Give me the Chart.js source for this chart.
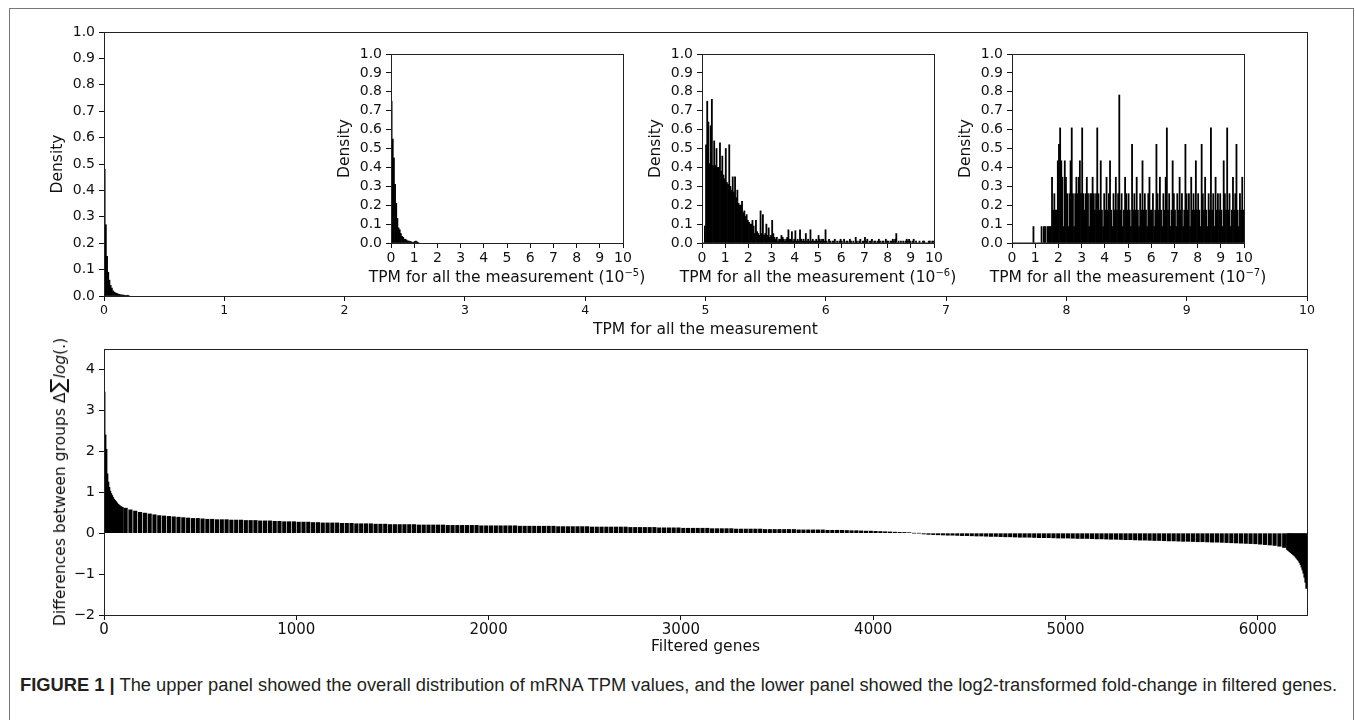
<!DOCTYPE html>
<html><head><meta charset="utf-8">
<script src="https://cdn.jsdelivr.net/npm/chart.js"></script>
<style>
html,body{margin:0;padding:0;background:#fff;width:1355px;height:720px;overflow:hidden;}
body{position:relative;font-family:"DejaVu Sans",sans-serif;color:#111;}
canvas{position:absolute;}
#frame{position:absolute;left:9px;top:8px;width:1345px;height:730px;border:1px solid #777;box-sizing:border-box;}
.ititle{position:absolute;top:277px;transform:translate(-50%,-50%);white-space:nowrap;font-size:15.5px;color:#111;}
.ititle sup{font-size:10px;vertical-align:6px;line-height:0;}
#ytitle{position:absolute;left:58px;top:482px;transform:translate(-50%,-50%) rotate(-90deg);white-space:nowrap;font-size:15.5px;color:#111;}
#ytitle .sum{font-size:21px;}
#caption{position:absolute;left:20px;top:675px;white-space:nowrap;font-family:"Liberation Sans",Arial,sans-serif;font-size:18px;color:#231f20;transform-origin:0 0;}
</style></head>
<body>
<div id="frame"></div>
<canvas id="cMain" width="1355" height="345" style="left:0;top:0"></canvas>
<canvas id="cIn1" width="310" height="250" style="left:329px;top:40px"></canvas>
<canvas id="cIn2" width="310" height="250" style="left:640px;top:40px"></canvas>
<canvas id="cIn3" width="310" height="250" style="left:950px;top:40px"></canvas>
<canvas id="cBot" width="1355" height="325" style="left:0;top:335px"></canvas>
<div class="ititle" style="left:507px">TPM for all the measurement (10<sup>−5</sup>)</div>
<div class="ititle" style="left:818px">TPM for all the measurement (10<sup>−6</sup>)</div>
<div class="ititle" style="left:1128px">TPM for all the measurement (10<sup>−7</sup>)</div>
<div id="ytitle">Differences between groups Δ<span class="sum">∑</span><i>log</i>(.)</div>
<div id="caption"><b>FIGURE 1 |</b> The upper panel showed the overall distribution of mRNA TPM values, and the lower panel showed the log2-transformed fold-change in filtered genes.</div>
<script>
// ---------------- DATA ----------------
// Upper main panel: histogram of TPM (bin width 0.01)
const mainBinWidth = 0.01;
const mainDensity = [0.48, 0.27, 0.15, 0.09, 0.06, 0.04, 0.03, 0.02, 0.015, 0.012, 0.01, 0.008, 0.006, 0.005, 0.004, 0.004, 0.003, 0.003, 0.002, 0.003, 0.002];
const mainXTicks = [0, 1, 2, 3, 4, 5, 6, 7, 8, 9, 10];
const densityTicks = [0, 0.1, 0.2, 0.3, 0.4, 0.5, 0.6, 0.7, 0.8, 0.9, 1.0];
const insetXTicks = [0, 1, 2, 3, 4, 5, 6, 7, 8, 9, 10];

// Inset 1 (x 1e-5), bin width 0.05
const inset1BinWidth = 0.05;
const inset1Density = [0.75, 0.55, 0.45, 0.31, 0.21, 0.13, 0.08, 0.07, 0.05, 0.035, 0.03, 0.02, 0.02, 0.015, 0.01, 0.01, 0.008, 0.006, 0.004, 0.004, 0.008, 0.01, 0.006, 0.003];

// Inset 2 (x 1e-6), bin width 0.05
const inset2BinWidth = 0.05;
const inset2Density = [
  0, 0, 0.09, 0.52, 0.75, 0.64, 0.42, 0.62, 0.76, 0.41, 0.54, 0.41, 0.5, 0.4, 0.4, 0.53, 0.38, 0.46, 0.36, 0.34,
  0.5, 0.32, 0.31, 0.52, 0.3, 0.28, 0.35, 0.27, 0.35, 0.24, 0.28, 0.21, 0.2, 0.2, 0.22, 0.16, 0.17, 0.14, 0.15, 0.12,
  0.11, 0.1, 0.1, 0.12, 0.09, 0.05, 0.12, 0.06, 0.05, 0.04, 0.17, 0.05, 0.15, 0.04, 0.05, 0.1, 0.04, 0.08, 0.03, 0.04,
  0.12, 0.05, 0.03, 0.02, 0.03, 0.01, 0.02, 0.02, 0.04, 0.03, 0.02, 0.01, 0.02, 0.03, 0.07, 0.02, 0.02, 0.06, 0.01, 0.02,
  0.065, 0.01, 0.02, 0.01, 0.07, 0.02, 0.01, 0.02, 0.01, 0.05, 0.01, 0.02, 0.01, 0.07, 0.01, 0.02, 0.01, 0.01, 0.02, 0.01,
  0.04, 0.02, 0.01, 0.02, 0.02, 0.01, 0.07, 0.01, 0, 0.02, 0.01, 0, 0.01, 0.01, 0.02, 0, 0.01, 0, 0.01, 0.02,
  0.01, 0, 0.02, 0, 0.01, 0.01, 0, 0.02, 0.01, 0, 0.01, 0, 0.03, 0.01, 0, 0.01, 0.02, 0, 0.01, 0.01,
  0.03, 0.01, 0.02, 0, 0.01, 0.01, 0.02, 0, 0.01, 0.01, 0, 0.01, 0.02, 0.01, 0, 0.01, 0.01, 0, 0.02, 0.01,
  0.01, 0, 0.01, 0.01, 0.02, 0.01, 0.02, 0.05, 0, 0.01, 0, 0.01, 0, 0.01, 0, 0.01, 0.02, 0.01, 0.02, 0.01,
  0, 0.01, 0.02, 0, 0.01, 0, 0, 0.01, 0, 0, 0.01, 0.01, 0, 0, 0, 0.01, 0.01, 0, 0.01, 0.01
];

// Inset 3 (x 1e-7), bin width 0.05
const inset3BinWidth = 0.05;
const inset3Density = [
  0, 0, 0, 0, 0, 0, 0, 0, 0, 0, 0, 0, 0, 0, 0, 0, 0, 0, 0.087, 0,
  0, 0, 0, 0, 0, 0.087, 0, 0.087, 0.087, 0, 0.087, 0.087, 0.087, 0.087, 0.348, 0.174, 0.261, 0.174, 0.174, 0.435,
  0.522, 0.609, 0.435, 0.348, 0.087, 0.435, 0.348, 0.261, 0.087, 0.261, 0.435, 0.609, 0.261, 0.087, 0.261, 0.348, 0.261, 0.348, 0.435, 0.261,
  0.609, 0.261, 0.174, 0.261, 0.348, 0.261, 0.087, 0.261, 0.261, 0.348, 0.261, 0.174, 0.261, 0.609, 0.261, 0.174, 0.435, 0.174, 0.087, 0.261,
  0.174, 0.348, 0.174, 0.261, 0.435, 0.174, 0.087, 0.261, 0.174, 0.348, 0.174, 0.261, 0.783, 0.174, 0.261, 0.087, 0.174, 0.348, 0.261, 0.174,
  0.261, 0.174, 0.087, 0.522, 0.174, 0.261, 0.174, 0.348, 0.174, 0.087, 0.261, 0.174, 0.435, 0.174, 0.261, 0.174, 0.087, 0.261, 0.348, 0.174,
  0.174, 0.261, 0.087, 0.174, 0.522, 0.261, 0.174, 0.348, 0.174, 0.087, 0.261, 0.174, 0.348, 0.609, 0.174, 0.261, 0.087, 0.174, 0.435, 0.261,
  0.174, 0.087, 0.261, 0.174, 0.348, 0.174, 0.261, 0.087, 0.174, 0.522, 0.261, 0.174, 0.261, 0.087, 0.348, 0.174, 0.261, 0.174, 0.435, 0.174,
  0.261, 0.174, 0.087, 0.522, 0.261, 0.174, 0.348, 0.174, 0.087, 0.261, 0.174, 0.609, 0.174, 0.261, 0.087, 0.348, 0.174, 0.261, 0.174, 0.261,
  0.174, 0.087, 0.435, 0.261, 0.174, 0.609, 0.174, 0.261, 0.087, 0.174, 0.348, 0.174, 0.261, 0.522, 0.174, 0.087, 0.261, 0.174, 0.348, 0.174
];

// Lower panel: sorted differences per filtered gene (binned)
const geneTotal = 6256;
const geneHeadStart = 0, geneHeadBin = 5;
const geneHeadDiff = [3.45, 2.4, 2.05, 1.45, 1.25, 1.12, 1.03, 0.97, 0.92, 0.87, 0.83, 0.8, 0.77, 0.74, 0.71, 0.69, 0.67, 0.65, 0.64, 0.63];
const geneMidStart = 100, geneMidBin = 25;
const geneMidDiff = [
  0.61, 0.57, 0.54, 0.51, 0.49, 0.47, 0.45, 0.43, 0.42, 0.41,
  0.40, 0.39, 0.38, 0.37, 0.36, 0.36, 0.35, 0.34, 0.34, 0.33,
  0.33, 0.33, 0.32, 0.32, 0.32, 0.31, 0.31, 0.31, 0.30, 0.30,
  0.30, 0.29, 0.29, 0.28, 0.28, 0.28, 0.27, 0.27, 0.27, 0.26,
  0.26, 0.25, 0.25, 0.25, 0.25, 0.24, 0.24, 0.24, 0.23, 0.23,
  0.23, 0.23, 0.22, 0.22, 0.22, 0.21, 0.21, 0.21, 0.21, 0.21,
  0.21, 0.20, 0.20, 0.20, 0.20, 0.20, 0.20, 0.19, 0.19, 0.19,
  0.19, 0.19, 0.19, 0.19, 0.18, 0.18, 0.18, 0.18, 0.18, 0.18,
  0.18, 0.18, 0.17, 0.17, 0.17, 0.17, 0.17, 0.17, 0.17, 0.17,
  0.16, 0.16, 0.16, 0.16, 0.16, 0.16, 0.16, 0.15, 0.15, 0.15,
  0.15, 0.15, 0.15, 0.15, 0.15, 0.14, 0.14, 0.14, 0.14, 0.14,
  0.14, 0.13, 0.13, 0.13, 0.13, 0.13, 0.12, 0.12, 0.12, 0.12,
  0.12, 0.12, 0.11, 0.11, 0.11, 0.11, 0.11, 0.10, 0.10, 0.10,
  0.10, 0.10, 0.10, 0.09, 0.09, 0.09, 0.09, 0.09, 0.09, 0.09,
  0.08, 0.08, 0.08, 0.08, 0.08, 0.08, 0.07, 0.07, 0.07, 0.07,
  0.065, 0.06, 0.06, 0.055, 0.05, 0.05, 0.045, 0.04, 0.035, 0.03,
  0.025, 0.02, 0.018, 0.012, 0, 0, -0.02, -0.03, -0.035, -0.04,
  -0.045, -0.05, -0.05, -0.055, -0.06, -0.06, -0.065, -0.07, -0.07, -0.075,
  -0.08, -0.08, -0.085, -0.09, -0.09, -0.095, -0.1, -0.1, -0.1, -0.105,
  -0.11, -0.11, -0.11, -0.115, -0.12, -0.12, -0.12, -0.125, -0.13, -0.13,
  -0.13, -0.135, -0.14, -0.14, -0.145, -0.15, -0.15, -0.155, -0.16, -0.16,
  -0.165, -0.17, -0.17, -0.175, -0.18, -0.18, -0.185, -0.19, -0.19, -0.195,
  -0.2, -0.2, -0.205, -0.21, -0.21, -0.215, -0.22, -0.22, -0.225, -0.23,
  -0.235, -0.24, -0.245, -0.25, -0.255, -0.26, -0.27, -0.28, -0.29, -0.3,
  -0.32, -0.35
];
const geneTailStart = 6150, geneTailBin = 5;
const geneTailDiff = [-0.4, -0.42, -0.44, -0.46, -0.48, -0.5, -0.52, -0.54, -0.56, -0.59, -0.62, -0.65, -0.68, -0.72, -0.77, -0.83, -0.9, -0.98, -1.08, -1.2, -1.35];
const geneTicks = [0, 1000, 2000, 3000, 4000, 5000, 6000];
const diffTicks = [-2, -1, 0, 1, 2, 3, 4];

// ---------------- HELPERS ----------------
const toPoints = (arr, w, start = 0) => arr.map((y, i) => ({ x: start + (i + 0.5) * w, y }));
const setTicks = arr => s => { s.ticks = arr.map(v => ({ value: v })); };
const fixW = w => s => { s.width = w; };
const fixH = h => s => { s.height = h; };
const INK = '#111';
Chart.defaults.font.family = "'DejaVu Sans', sans-serif";
Chart.defaults.color = INK;

const boxPlugin = {
  id: 'box',
  afterDraw(chart) {
    const a = chart.chartArea, c = chart.ctx;
    c.save();
    c.strokeStyle = '#222'; c.lineWidth = 1;
    c.strokeRect(Math.round(a.left) + 0.5, Math.round(a.top) + 0.5, Math.round(a.right - a.left), Math.round(a.bottom - a.top));
    c.restore();
  }
};

function gridOpts() {
  return { display: true, drawOnChartArea: false, drawTicks: true, tickLength: 5, color: INK, offset: false };
}
function borderOpts() { return { display: true, color: '#222', width: 1 }; }

function histChart(id, datasets, o) {
  return new Chart(document.getElementById(id), {
    type: 'bar',
    data: { datasets },
    options: {
      responsive: false, animation: false, events: [],
      layout: { padding: o.padding },
      plugins: { legend: { display: false }, tooltip: { enabled: false }, title: { display: false } },
      scales: {
        x: {
          type: 'linear', min: o.xmin, max: o.xmax, offset: false,
          afterBuildTicks: setTicks(o.xticks), afterFit: fixH(o.xh),
          grid: gridOpts(), border: borderOpts(),
          ticks: { font: { size: o.xfont }, padding: o.xpad, maxRotation: 0, autoSkip: false, color: INK, callback: o.xfmt },
          title: o.xtitle ? { display: true, text: o.xtitle, font: { size: 15.5 }, color: INK, padding: { top: 0, bottom: o.xtitlePad } } : { display: false }
        },
        y: {
          type: 'linear', min: o.ymin, max: o.ymax,
          afterBuildTicks: setTicks(o.yticks), afterFit: fixW(o.yw),
          grid: gridOpts(), border: borderOpts(),
          ticks: { font: { size: o.yfont }, padding: 4, autoSkip: false, color: INK, callback: o.yfmt },
          title: o.ytitle ? { display: true, text: o.ytitle, font: { size: 15.5 }, color: INK, padding: { top: o.ytitlePad, bottom: 0 } } : { display: false }
        }
      }
    },
    plugins: [boxPlugin]
  });
}

const histSet = (vals, w) => ({ data: toPoints(vals, w), backgroundColor: '#000', borderWidth: 0, barPercentage: 1, categoryPercentage: 1 });
const fmt1 = v => Number(v).toFixed(1);
const fmtInt = v => String(v);
const fmtMinus = v => (v < 0 ? '\u2212' + Math.abs(v) : String(v));

// Upper main panel
histChart('cMain', [histSet(mainDensity, mainBinWidth)], {
  padding: { left: 0, right: 48, top: 32, bottom: 0 },
  xmin: 0, xmax: 10, xticks: mainXTicks, xh: 49, xfont: 12.5, xpad: 2, xfmt: fmtInt,
  xtitle: 'TPM for all the measurement', xtitlePad: 6,
  ymin: 0, ymax: 1, yticks: densityTicks, yw: 104, yfont: 14, yfmt: fmt1,
  ytitle: 'Density', ytitlePad: 49
});

// Insets
const insetOpts = {
  padding: { left: 0, right: 16, top: 14, bottom: 0 },
  xmin: 0, xmax: 10, xticks: insetXTicks, xh: 47, xfont: 14, xpad: 1.5, xfmt: fmtInt,
  ymin: 0, ymax: 1, yticks: densityTicks, yw: 62, yfont: 14, yfmt: fmt1,
  ytitle: 'Density', ytitlePad: 7
};
histChart('cIn1', [histSet(inset1Density, inset1BinWidth)], insetOpts);
histChart('cIn2', [histSet(inset2Density, inset2BinWidth)], insetOpts);
histChart('cIn3', [histSet(inset3Density, inset3BinWidth)], insetOpts);

// Lower panel
const geneSet = (vals, start, w, thick) => ({
  data: toPoints(vals, w, start), backgroundColor: '#000', borderWidth: 0, grouped: false, barThickness: thick
});
histChart('cBot', [
  geneSet(geneHeadDiff, geneHeadStart, geneHeadBin, 1.3),
  geneSet(geneMidDiff, geneMidStart, geneMidBin, 3.5),
  geneSet(geneTailDiff, geneTailStart, geneTailBin, 1.3)
], {
  padding: { left: 0, right: 48, top: 14, bottom: 0 },
  xmin: 0, xmax: geneTotal, xticks: geneTicks, xh: 45, xfont: 15, xpad: 1.5, xfmt: fmtInt,
  xtitle: 'Filtered genes', xtitlePad: 4,
  ymin: -2, ymax: 4.5, yticks: diffTicks, yw: 104, yfont: 14.5, yfmt: fmtMinus,
  ytitle: null
});

// Fit caption width
(function () {
  const cap = document.getElementById('caption');
  const w = cap.getBoundingClientRect().width;
  const target = 1317;
  if (w > 0) cap.style.transform = 'scaleX(' + (target / w) + ')';
})();
</script>
</body></html>
